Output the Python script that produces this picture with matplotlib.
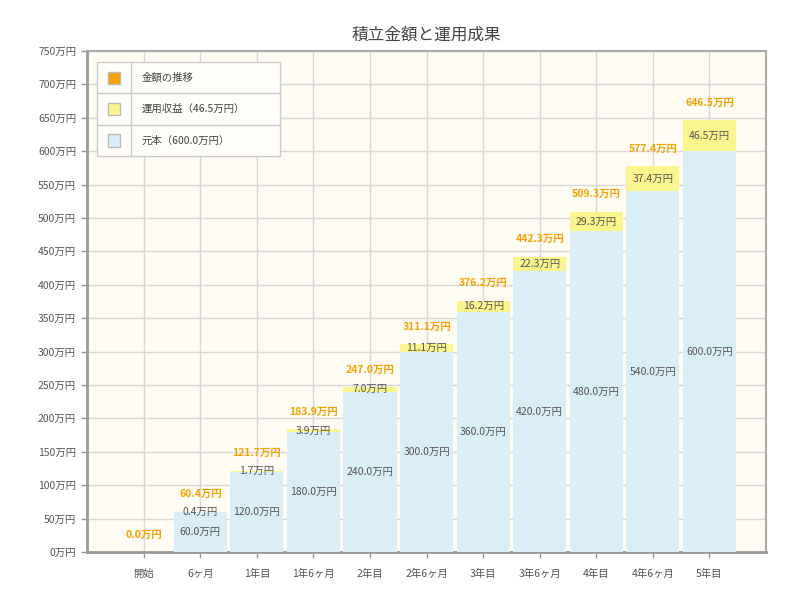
import matplotlib
matplotlib.use("Agg")
import matplotlib.pyplot as plt
from matplotlib.patches import Rectangle
from matplotlib.lines import Line2D

plt.rcParams['font.family'] = ['Noto Sans CJK JP', 'DejaVu Sans']

categories = ["開始", "6ヶ月", "1年目", "1年6ヶ月", "2年目", "2年6ヶ月", "3年目",
              "3年6ヶ月", "4年目", "4年6ヶ月", "5年目"]
principal = [0.0, 60.0, 120.0, 180.0, 240.0, 300.0, 360.0, 420.0, 480.0, 540.0, 600.0]
gain = [0.0, 0.4, 1.7, 3.9, 7.0, 11.1, 16.2, 22.3, 29.3, 37.4, 46.5]
totals = [0.0, 60.4, 121.7, 183.9, 247.0, 311.1, 376.2, 442.3, 509.3, 577.4, 646.5]
yticks = list(range(0, 751, 50))
legend_labels = ["金額の推移", "運用収益（46.5万円）", "元本（600.0万円）"]

C_BLUE = "#d9eef5"
C_YEL = "#fbf58e"
C_ORG = "#f7a100"
C_TXT = "#555555"

fig = plt.figure(figsize=(8, 5.9), dpi=100)
ax = fig.add_axes([0.109, 0.0644, 0.8485, 0.8492])
ax.set_facecolor("#fffcf4")

x = list(range(len(categories)))
w = 0.94
ax.bar(x, principal, width=w, color=C_BLUE, zorder=3, linewidth=0)
ax.bar(x, gain, bottom=principal, width=w, color=C_YEL, zorder=3, linewidth=0)

for i in x:
    if principal[i] > 0:
        ax.text(i, principal[i] / 2, f"{principal[i]:.1f}万円", ha="center", va="center",
                fontsize=7.5, color=C_TXT, zorder=5)
        ax.text(i, principal[i] + gain[i] / 2, f"{gain[i]:.1f}万円", ha="center", va="center",
                fontsize=7.5, color=C_TXT, zorder=5)
    ax.annotate(f"{totals[i]:.1f}万円", (i, totals[i]), xytext=(0, 12.5), textcoords="offset points",
                ha="center", va="center", fontsize=7.5, color=C_ORG, fontweight="bold", zorder=5)

ax.set_xlim(-1, 11)
ax.set_ylim(0, 750)
ax.set_xticks(x)
ax.set_xticklabels(categories, fontsize=7.5, color=C_TXT)
ax.set_yticks(yticks)
ax.set_yticklabels([f"{v}万円" for v in yticks], fontsize=7.5, color=C_TXT)
ax.tick_params(axis="both", length=4, width=1, color="#999999", pad=4)
ax.tick_params(axis="x", pad=8)
ax.grid(True, color="#d8d8d8", linewidth=1, zorder=0)
ax.set_axisbelow(True)

for s in ["left", "bottom"]:
    ax.spines[s].set_color("#999999")
    ax.spines[s].set_linewidth(2)
for s in ["right", "top"]:
    ax.spines[s].set_color("#aaaaaa")
    ax.spines[s].set_linewidth(1.5)

ax.set_title("積立金額と運用成果", fontsize=12, color="#444444", pad=8)

# legend drawn as a table
lx0, lx1 = 0.0147, 0.284
ly1, ly0 = 0.978, 0.790
lxd = 0.0648
T = ax.transAxes
ax.add_patch(Rectangle((lx0, ly0), lx1 - lx0, ly1 - ly0, transform=T, facecolor="#fffefa",
                       edgecolor="#cccccc", linewidth=1, zorder=6))
rh = (ly1 - ly0) / 3
for k in range(1, 3):
    ax.add_line(Line2D([lx0, lx1], [ly1 - k * rh] * 2, transform=T, color="#cccccc", lw=1, zorder=7))
ax.add_line(Line2D([lxd, lxd], [ly0, ly1], transform=T, color="#cccccc", lw=1, zorder=7))
sw_colors = [C_ORG, C_YEL, C_BLUE]
sw = 0.0177
sh = sw * 679 / 501
for k, (lab, c) in enumerate(zip(legend_labels, sw_colors)):
    cy = ly1 - (k + 0.5) * rh
    cx = (lx0 + lxd) / 2
    ax.add_patch(Rectangle((cx - sw / 2, cy - sh / 2), sw, sh, transform=T, facecolor=c,
                           edgecolor="#bbbbbb", linewidth=1, zorder=8))
    ax.text(lxd + 0.015, cy, lab, transform=T, ha="left", va="center", fontsize=7.5,
            color="#444444", zorder=8)

fig.savefig("out.png", dpi=100)
